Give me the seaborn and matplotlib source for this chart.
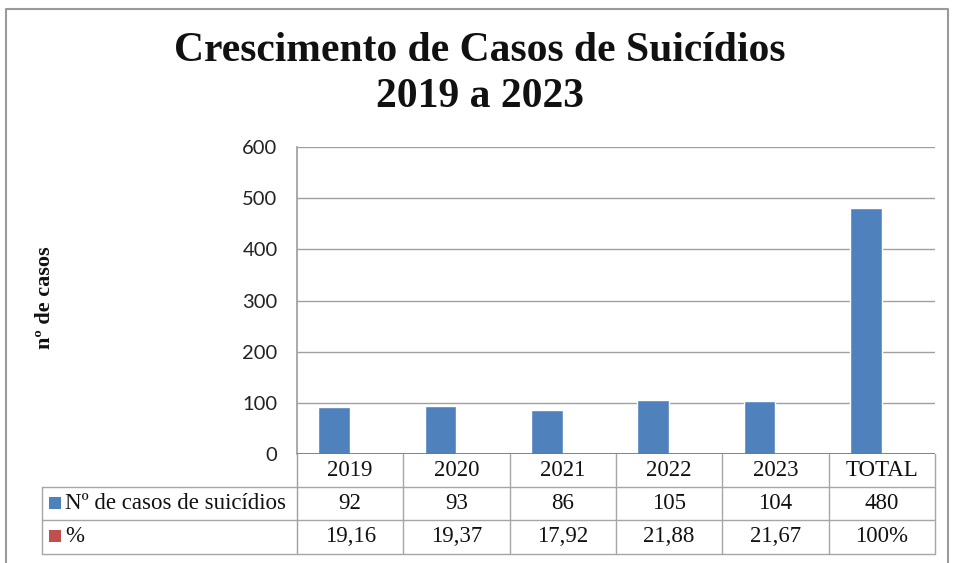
import matplotlib
matplotlib.use("Agg")
import matplotlib.pyplot as plt
import numpy as np
import pandas as pd
import seaborn as sns

anos = ["2019", "2020", "2021", "2022", "2023", "TOTAL"]
casos = [92, 93, 86, 105, 104, 480]
pct_txt = ["19,16", "19,37", "17,92", "21,88", "21,67", "100%"]
serie_casos = "Nº de casos de suicídios"
serie_pct = "%"
yticks = [0, 100, 200, 300, 400, 500, 600]

# the % series was typed as text ("19,16"), so it plots as empty bars
pct_num = pd.to_numeric(pd.Series(pct_txt), errors="coerce")
df = pd.concat([
    pd.DataFrame({"ano": anos, "valor": casos, "serie": serie_casos}),
    pd.DataFrame({"ano": anos, "valor": pct_num, "serie": serie_pct}),
], ignore_index=True)

blue = "#4F81BD"
red = "#C0504D"
grid_c = "#A0A0A0"
W, H = 960, 563

sns.set_theme(style="white")
fig = plt.figure(figsize=(9.6, 5.63), dpi=100)

# overlay in pixel coords for frame / table / texts
ov = fig.add_axes([0, 0, 1, 1])
ov.set_xlim(0, W)
ov.set_ylim(H, 0)
ov.axis("off")

ax = fig.add_axes([297 / W, 1 - 454 / H, (935 - 297) / W, (454 - 147) / H])
sns.barplot(data=df, x="ano", y="valor", hue="serie", hue_order=[serie_casos, serie_pct],
            palette={serie_casos: blue, serie_pct: red}, width=0.6, saturation=1,
            legend=False, ax=ax)
ax.set_xlim(-0.5, len(anos) - 0.5)
ax.set_ylim(0, 600)
ax.set_yticks(yticks)
ax.set_yticklabels([str(v) for v in yticks], fontfamily="Lato", fontsize=14.5, color="#222222")
ax.tick_params(axis="y", length=0, pad=14)
ax.set_xticks([])
ax.set_xlabel("")
ax.set_ylabel("")
ax.yaxis.grid(True, color=grid_c, linewidth=1)
ax.set_axisbelow(True)
for s in ["right", "top", "bottom"]:
    ax.spines[s].set_visible(False)
ax.spines["left"].set_color(grid_c)
ax.axhline(0, color=red, linewidth=1.2, zorder=5)

# outer frame
ov.plot([6, 6, 948, 948], [H + 5, 9, 9, H + 5], color="#9A9A9A", linewidth=1.5)

# titles
ov.text(W / 2, 51, "Crescimento de Casos de Suicídios", ha="center", va="center",
        fontfamily="Liberation Serif", fontweight="bold", fontsize=30, color="#111111")
ov.text(W / 2, 97, "2019 a 2023", ha="center", va="center",
        fontfamily="Liberation Serif", fontweight="bold", fontsize=30, color="#111111")
ov.text(45, 298, "nº de casos", ha="center", va="center", rotation=90,
        fontfamily="Liberation Serif", fontweight="bold", fontsize=16, color="#111111")

# data table
x_edges = np.linspace(297, 935, len(anos) + 1)
rows = [454, 487, 520, 554]
tab_left = 42
lc = "#A6A6A6"
for x in x_edges[1:]:
    ov.plot([x, x], [rows[0], rows[-1]], color=lc, linewidth=1)
ov.plot([297, 297], [rows[0], rows[-1]], color=grid_c, linewidth=1)
ov.plot([tab_left, tab_left], [rows[1], rows[-1]], color=lc, linewidth=1)
for y in rows[1:]:
    ov.plot([tab_left, 935], [y, y], color=lc, linewidth=1)

cell_font = dict(fontfamily="Liberation Serif", fontsize=16.5, color="#111111", va="center")
for i in range(len(anos)):
    xc = (x_edges[i] + x_edges[i + 1]) / 2
    ov.text(xc, (rows[0] + rows[1]) / 2, anos[i], ha="center", **cell_font)
    ov.text(xc, (rows[1] + rows[2]) / 2, str(casos[i]), ha="center", **cell_font)
    ov.text(xc, (rows[2] + rows[3]) / 2, pct_txt[i], ha="center", **cell_font)

for r, (nome, cor) in enumerate([(serie_casos, blue), (serie_pct, red)]):
    yc = (rows[r + 1] + rows[r + 2]) / 2
    ov.scatter([55], [yc - 1], marker="s", s=75, color=cor, linewidths=0)
    ov.text(65, yc, nome, ha="left", **cell_font)

fig.savefig("out.png", dpi=100)
